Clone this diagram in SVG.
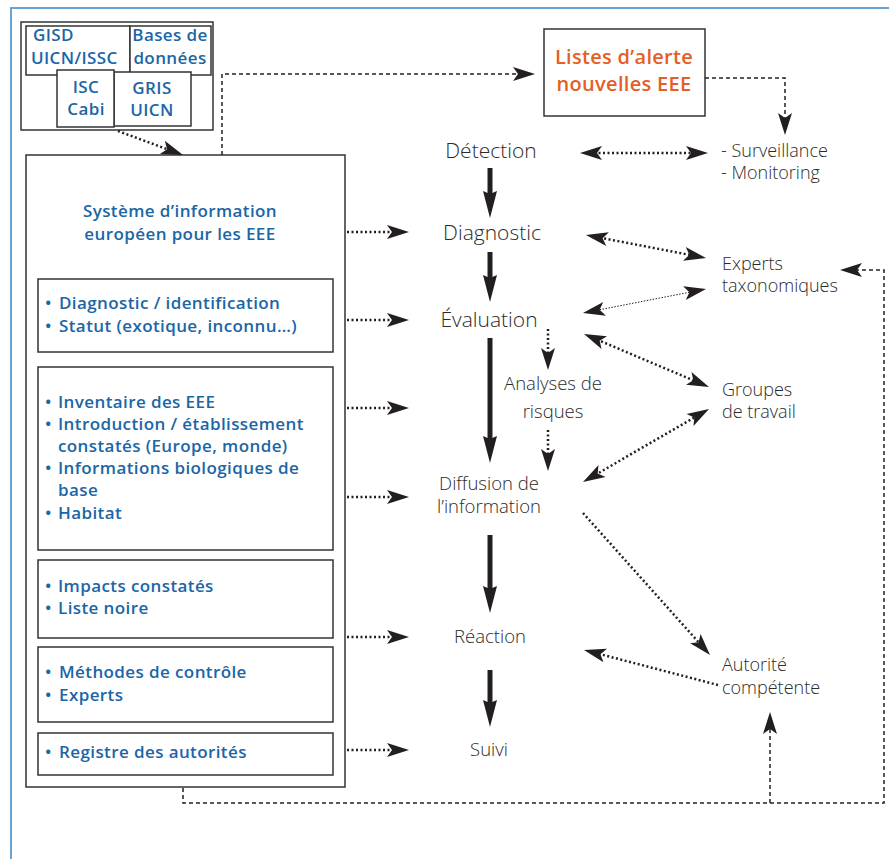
<svg xmlns="http://www.w3.org/2000/svg" width="889" height="859" viewBox="0 0 889 859">
<style>
.box{fill:#fff;stroke:#333;stroke-width:1.5}
.bt{font-family:"Open Sans","Liberation Sans",sans-serif;font-weight:600;font-size:17px;letter-spacing:0.4px;fill:#1a66a6}
.ot{font-family:"Open Sans","Liberation Sans",sans-serif;font-weight:600;font-size:20px;letter-spacing:0.3px;fill:#e45f25}
.gt{font-family:"Open Sans","Liberation Sans",sans-serif;font-weight:300;font-size:18px;fill:#2b2b2b}
.gl{font-size:21px}
.gm{font-size:18.5px}
.dot{fill:none;stroke:#231f20;stroke-width:2.5;stroke-dasharray:2 2.5}
.thin{fill:none;stroke:#231f20;stroke-width:1;stroke-dasharray:1.5 1.5}
.dash{fill:none;stroke:#231f20;stroke-width:1.5;stroke-dasharray:4 3}
.thick{fill:none;stroke:#231f20;stroke-width:5}
</style>
<defs>
<marker id="ah" markerUnits="userSpaceOnUse" markerWidth="24" markerHeight="14" refX="8" refY="7" orient="auto-start-reverse" overflow="visible">
<path d="M0,0 L22,7 L0,14 L5,7 z" fill="#231f20"/>
</marker>
<marker id="th" markerUnits="userSpaceOnUse" markerWidth="28" markerHeight="16" refX="11" refY="7" orient="auto" overflow="visible">
<path d="M0,0 L27,7 L0,14 L3,7 z" fill="#231f20"/>
</marker>
</defs>
<g id="frame">
<path d="M11,859 V8 H889" fill="none" stroke="#6aa3cf" stroke-width="2"/>
</g>
<g id="sources">
<rect class="box" x="21" y="22" width="192" height="108"/>
<rect class="box" x="26" y="26" width="104" height="49"/>
<rect class="box" x="130" y="26" width="81" height="49"/>
<rect class="box" x="114" y="72" width="77" height="54"/>
<rect class="box" x="57" y="70" width="57" height="57"/>
<text class="bt" x="33" y="41">GISD</text>
<text class="bt" x="31" y="64" letter-spacing="0.1">UICN/ISSC</text>
<text class="bt" x="170" y="41" text-anchor="middle">Bases de</text>
<text class="bt" x="170" y="64" text-anchor="middle">données</text>
<text class="bt" x="86" y="93" text-anchor="middle">ISC</text>
<text class="bt" x="86" y="115" text-anchor="middle">Cabi</text>
<text class="bt" x="152" y="94" text-anchor="middle">GRIS</text>
<text class="bt" x="152" y="116" text-anchor="middle">UICN</text>
</g>
<g id="systeme">
<rect class="box" x="26" y="155" width="319" height="632"/>
<text class="bt" x="180" y="217" text-anchor="middle">Système d’information</text>
<text class="bt" x="180" y="240" text-anchor="middle">européen pour les EEE</text>
</g>
<g id="box-diagnostic">
<rect class="box" x="38" y="279" width="295" height="73"/>
<text class="bt" y="309"><tspan x="45">•</tspan><tspan x="59">Diagnostic / identification</tspan></text>
<text class="bt" y="332"><tspan x="45">•</tspan><tspan x="59">Statut (exotique, inconnu…)</tspan></text>
</g>
<g id="box-inventaire">
<rect class="box" x="38" y="367" width="295" height="183"/>
<text class="bt" y="408"><tspan x="45">•</tspan><tspan x="58">Inventaire des EEE</tspan></text>
<text class="bt" y="430"><tspan x="45">•</tspan><tspan x="58">Introduction / établissement</tspan></text>
<text class="bt" x="58" y="452">constatés (Europe, monde)</text>
<text class="bt" y="474"><tspan x="45">•</tspan><tspan x="58">Informations biologiques de</tspan></text>
<text class="bt" x="58" y="496">base</text>
<text class="bt" y="519"><tspan x="45">•</tspan><tspan x="58">Habitat</tspan></text>
</g>
<g id="box-impacts">
<rect class="box" x="38" y="560" width="295" height="78"/>
<text class="bt" y="592"><tspan x="45">•</tspan><tspan x="58">Impacts constatés</tspan></text>
<text class="bt" y="614"><tspan x="45">•</tspan><tspan x="58">Liste noire</tspan></text>
</g>
<g id="box-methodes">
<rect class="box" x="38" y="647" width="295" height="75"/>
<text class="bt" y="678"><tspan x="45">•</tspan><tspan x="59">Méthodes de contrôle</tspan></text>
<text class="bt" y="701"><tspan x="45">•</tspan><tspan x="59">Experts</tspan></text>
</g>
<g id="box-registre">
<rect class="box" x="38" y="733" width="295" height="42"/>
<text class="bt" y="758"><tspan x="45">•</tspan><tspan x="59">Registre des autorités</tspan></text>
</g>
<g id="listes">
<rect class="box" x="544" y="29" width="161" height="87"/>
<text class="ot" x="624" y="64" text-anchor="middle">Listes d’alerte</text>
<text class="ot" x="624" y="91" text-anchor="middle">nouvelles EEE</text>
</g>
<g id="detection"><text class="gt gl" x="491" y="158" text-anchor="middle">Détection</text></g>
<g id="diagnostic"><text class="gt gl" x="492" y="240" text-anchor="middle">Diagnostic</text></g>
<g id="evaluation"><text class="gt gl" x="489" y="327" text-anchor="middle">Évaluation</text></g>
<g id="analyses">
<text class="gt gm" x="553" y="390" text-anchor="middle">Analyses de</text>
<text class="gt gm" x="553" y="418" text-anchor="middle">risques</text>
</g>
<g id="diffusion">
<text class="gt gm" x="489" y="490" text-anchor="middle">Diffusion de</text>
<text class="gt gm" x="489" y="513" text-anchor="middle">l’information</text>
</g>
<g id="reaction"><text class="gt gm" x="490" y="643" text-anchor="middle">Réaction</text></g>
<g id="suivi"><text class="gt gm" x="489" y="756" text-anchor="middle">Suivi</text></g>
<g id="surveillance">
<text class="gt" x="721" y="157">- Surveillance</text>
<text class="gt" x="721" y="179">- Monitoring</text>
</g>
<g id="experts">
<text class="gt" x="722" y="270">Experts</text>
<text class="gt" x="722" y="292">taxonomiques</text>
</g>
<g id="groupes">
<text class="gt" x="722" y="396">Groupes</text>
<text class="gt" x="722" y="418">de travail</text>
</g>
<g id="autorite">
<text class="gt" x="722" y="671">Autorité</text>
<text class="gt" x="722" y="694">compétente</text>
</g>
<g id="connectors">
<line class="thick" x1="490" y1="168" x2="490" y2="202" marker-end="url(#th)"/>
<line class="thick" x1="490" y1="252" x2="490" y2="286" marker-end="url(#th)"/>
<line class="thick" x1="490" y1="338" x2="490" y2="447" marker-end="url(#th)"/>
<line class="thick" x1="490" y1="535" x2="490" y2="597" marker-end="url(#th)"/>
<line class="thick" x1="490" y1="670" x2="490" y2="711" marker-end="url(#th)"/>
<line class="dot" x1="347" y1="232" x2="395" y2="232" marker-end="url(#ah)"/>
<line class="dot" x1="347" y1="320" x2="395" y2="320" marker-end="url(#ah)"/>
<line class="dot" x1="347" y1="408" x2="395" y2="408" marker-end="url(#ah)"/>
<line class="dot" x1="347" y1="497" x2="395" y2="497" marker-end="url(#ah)"/>
<line class="dot" x1="347" y1="637" x2="395" y2="637" marker-end="url(#ah)"/>
<line class="dot" x1="347" y1="750" x2="395" y2="750" marker-end="url(#ah)"/>
<line class="dot" x1="118" y1="131" x2="169.9" y2="150.2" marker-end="url(#ah)"/>
<path class="dash" d="M222,155 V74 H521" marker-end="url(#ah)"/>
<path class="dash" d="M705,78 H785 V121" marker-end="url(#ah)"/>
<line class="dot" x1="594" y1="153" x2="694" y2="153" marker-start="url(#ah)" marker-end="url(#ah)"/>
<line class="dot" x1="599.7" y1="237.6" x2="692.3" y2="255.4" marker-start="url(#ah)" marker-end="url(#ah)"/>
<line class="thin" x1="596.7" y1="310.3" x2="692.3" y2="291.7" marker-start="url(#ah)" marker-end="url(#ah)"/>
<line class="dot" x1="596.9" y1="339.5" x2="696.1" y2="381.5" marker-start="url(#ah)" marker-end="url(#ah)"/>
<line class="dot" x1="595.1" y1="475" x2="696.9" y2="416" marker-start="url(#ah)" marker-end="url(#ah)"/>
<line class="dot" x1="583" y1="513" x2="700.7" y2="644.6" marker-end="url(#ah)"/>
<line class="dot" x1="718" y1="685" x2="597.5" y2="653.5" marker-end="url(#ah)"/>
<line class="dot" x1="548" y1="329" x2="548" y2="356" marker-end="url(#ah)"/>
<line class="dot" x1="548" y1="430" x2="548" y2="457" marker-end="url(#ah)"/>
<path class="dash" d="M183,788 V803 H884 V270 H854" marker-end="url(#ah)"/>
<path class="dash" d="M770,803 V726" marker-end="url(#ah)"/>
</g>
</svg>
